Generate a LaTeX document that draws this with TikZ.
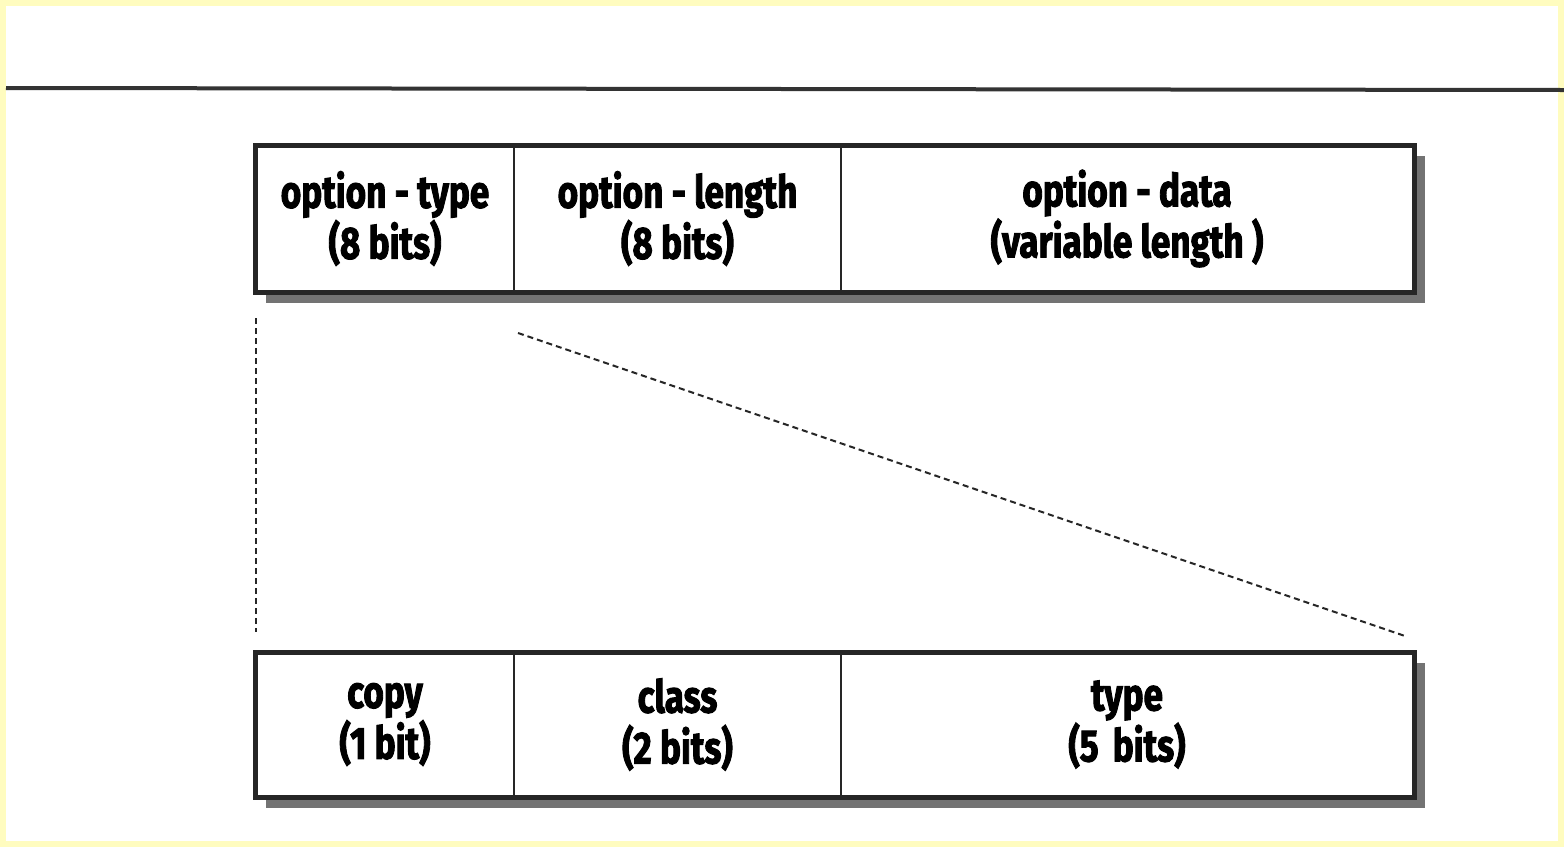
\documentclass[tikz,border=0pt]{standalone}
\usepackage{fontspec}
\setmainfont{Fira Sans}[BoldFeatures={FakeBold=2.5}]
\begin{document}
\begin{tikzpicture}[x=1pt,y=-1pt,
  field/.style={draw=black!85,line width=2pt,rectangle,anchor=north west,inner sep=0pt,
    minimum height=145pt,align=center,
    font=\fontsize{45}{51}\selectfont\bfseries},
  frame/.style={draw=black!85,line width=5pt},
  shadowbox/.style={fill=black!55,draw=none},
  guide/.style={draw=black!85,line width=2pt,dash pattern=on 6pt off 4pt}]
\fill[yellow!25] (0,0) rectangle (1564,847);
\fill[white] (6,6) rectangle (1558,841);
\useasboundingbox (0,0) rectangle (1564,847);
% top rule
\draw[black!80,line width=4pt] (6,88) -- (1564,90);
% upper box
\fill[shadowbox] (266,156) rectangle (1425,303);
\node[field,fill=white,minimum width=258pt] (otype) at (255,145) {\scalebox{0.78}[1]{option - type}\\\scalebox{0.78}[1]{(8 bits)}};
\node[field,fill=white,minimum width=327pt] (olen) at (513,145) {\scalebox{0.78}[1]{option - length}\\\scalebox{0.78}[1]{(8 bits)}};
\node[field,fill=white,minimum width=572pt] (odata) at (840,145) {\scalebox{0.78}[1]{option - data}\\\scalebox{0.78}[1]{(variable length )}};
\draw[frame] (otype.north west) rectangle (odata.south east);
% lower box
\fill[shadowbox] (266,663) rectangle (1425,808);
\node[field,fill=white,minimum width=258pt,minimum height=143pt] (copy) at (255,652) {\scalebox{0.78}[1]{copy}\\\scalebox{0.78}[1]{(1 bit)}};
\node[field,fill=white,minimum width=327pt,minimum height=143pt] (class) at (513,652) {\scalebox{0.78}[1]{class}\\\scalebox{0.78}[1]{(2 bits)}};
\node[field,fill=white,minimum width=572pt,minimum height=143pt] (type) at (840,652) {\scalebox{0.78}[1]{type}\\\scalebox{0.78}[1]{(5\, bits)}};
\draw[frame] (copy.north west) rectangle (type.south east);
% dashed guides
\coordinate (a1) at (256,318);
\coordinate (a2) at (256,632);
\coordinate (b1) at (518,333);
\coordinate (b2) at (1405,636);
\draw[guide] (a1) -- (a2);
\draw[guide] (b1) -- (b2);
\end{tikzpicture}
\end{document}
